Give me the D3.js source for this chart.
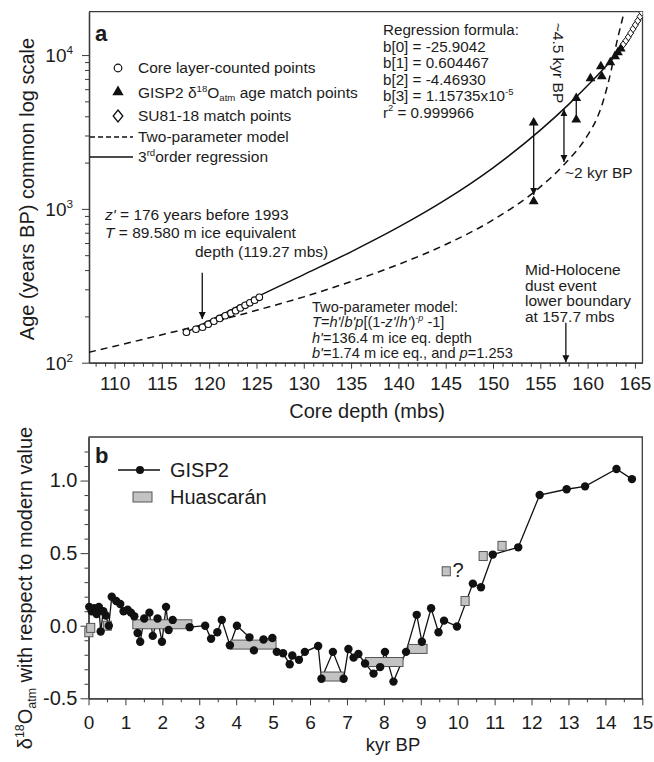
<!DOCTYPE html>
<html><head><meta charset="utf-8">
<script src="https://cdn.jsdelivr.net/npm/d3@7"></script>
<style>body{margin:0;background:#fff}svg{display:block;font-family:"Liberation Sans",Arial,sans-serif}</style>
</head><body><svg id="c" width="654" height="762"></svg>
<script>
// ---------- Panel a data ----------
const circDepth = [117.6, 118.6, 119.3, 119.9, 120.5, 121.1, 121.7, 122.3, 122.8, 123.3, 123.8, 124.3, 124.8, 125.3];
const circAge   = [158, 165, 170, 178, 186, 194, 202, 210, 218, 227, 236, 245, 255, 266];
const triDepth  = [154.3, 154.3, 158.8, 158.8, 160.3, 161.5, 161.4, 162.4, 162.9, 163.2, 163.5];
const triAge    = [3630, 1120, 5250, 3800, 7050, 7270, 8430, 8950, 9800, 10400, 11000];
const diaDepth  = [163.8, 164.05, 164.3, 164.55, 164.8, 165.05, 165.3, 165.55, 165.75];
const diaAge    = [11800, 12400, 13100, 13900, 14800, 15700, 16700, 17800, 18900];
const regDepth  = [117.6, 120, 125, 130, 135, 140, 145, 150, 155, 158, 160, 162, 164, 165, 165.8];
const regAge    = [158, 187, 267, 374, 526, 760, 1148, 1850, 3248, 4779, 6332, 8556, 12000, 15000, 19000];
const modDepth  = [107.3, 110, 115, 120, 125, 130, 135, 140, 145, 150, 155, 157.5, 160, 161, 161.5, 162, 162.5, 163, 163.5, 163.9];
const modAge    = [117, 128, 152, 181, 219, 268, 337, 435, 587, 848, 1389, 1937, 3013, 3900, 4700, 6000, 8000, 11500, 15500, 19500];
const xTicksA   = [110, 115, 120, 125, 130, 135, 140, 145, 150, 155, 160, 165];
const yTicksA   = [100, 1000, 10000];
const yTickExpA = ["2", "3", "4"];

// ---------- Panel b data ----------
const gispAge = [0.02, 0.09, 0.16, 0.22, 0.28, 0.33, 0.40, 0.47, 0.55, 0.63, 0.75, 0.86, 0.95, 1.06, 1.15, 1.24, 1.33, 1.40, 1.51, 1.65, 1.74, 1.87, 1.99, 2.10, 2.17, 2.28, 2.74, 3.16, 3.32, 3.49, 3.61, 3.83, 4.02, 4.36, 4.48, 4.74, 4.98, 5.10, 5.27, 5.45, 5.52, 5.70, 5.86, 6.22, 6.31, 6.62, 6.91, 7.04, 7.18, 7.31, 7.49, 7.72, 7.90, 8.03, 8.26, 8.60, 8.89, 9.03, 9.28, 9.48, 9.63, 9.98, 10.41, 10.63, 10.95, 11.64, 12.22, 12.95, 13.45, 14.30, 14.72];
const gispVal = [0.13, 0.10, 0.12, 0.08, 0.13, -0.04, 0.10, 0.07, 0.0, 0.20, 0.17, 0.15, 0.10, 0.11, 0.09, 0.065, -0.05, -0.11, 0.05, 0.09, -0.07, 0.05, -0.11, 0.13, -0.03, 0.04, -0.01, 0.0, -0.09, -0.045, 0.04, -0.135, 0.0, -0.08, -0.17, -0.095, -0.085, -0.18, -0.19, -0.265, -0.205, -0.235, -0.18, -0.14, -0.365, -0.18, -0.365, -0.16, -0.22, -0.195, -0.26, -0.33, -0.285, -0.18, -0.385, -0.18, 0.075, -0.11, 0.12, -0.045, 0.035, -0.005, 0.29, 0.265, 0.49, 0.54, 0.90, 0.94, 0.96, 1.08, 1.01];
const huasStart = [-0.10, -0.05, 0.40, 1.20, 3.85, 6.30, 7.50, 8.66, 9.58, 10.09, 10.58, 11.09];
const huasEnd   = [0.12, 0.17, 0.62, 2.80, 5.08, 6.90, 8.52, 9.17, 9.80, 10.31, 10.80, 11.31];
const huasVal   = [-0.045, -0.015, 0.0, 0.01, -0.13, -0.35, -0.25, -0.16, 0.375, 0.17, 0.48, 0.55];
const xTicksB = d3.range(0, 16, 1);
const yTicksB = [-0.5, 0, 0.5, 1.0];
const yLabelsB = ["-0.5", "0.0", "0.5", "1.0"];

const TXT = "#1c1c1c", AX = "#3a3a3a", INK = "#111";
const svg = d3.select("#c");

function rich(sel, x, y, parts, fs, anchor) {
  const t = sel.append("text").attr("x", x).attr("y", y).attr("font-size", fs).attr("fill", TXT);
  if (anchor) t.attr("text-anchor", anchor);
  let shift = 0;
  parts.forEach(p => {
    const s = Array.isArray(p) ? p[0] : p;
    const st = Array.isArray(p) ? (p[1] || "") : "";
    let target = 0, size = fs;
    if (st.includes("^")) { target = -fs * 0.4; size = fs * 0.62; }
    if (st.includes("_")) { target = fs * 0.22; size = fs * 0.62; }
    const ts = t.append("tspan").text(s).attr("dy", target - shift).attr("font-size", size);
    shift = target;
    if (st.includes("i")) ts.attr("font-style", "italic");
  });
  return t;
}

const defs = svg.append("defs");
defs.append("marker").attr("id", "ah").attr("viewBox", "0 0 10 10").attr("refX", 10).attr("refY", 5)
  .attr("markerWidth", 7).attr("markerHeight", 9).attr("markerUnits", "userSpaceOnUse")
  .attr("orient", "auto-start-reverse")
  .append("path").attr("d", "M0,0L10,5L0,10z").attr("fill", INK);

// ================= PANEL A =================
const xA = d3.scaleLinear().domain([107.3, 165.8]).range([89, 642.5]);
const yA = d3.scaleLog().domain([100, 19140]).range([362.7, 11.7]);
defs.append("clipPath").attr("id", "clipA").append("rect")
  .attr("x", 89).attr("y", 11.7).attr("width", 553.5).attr("height", 351);

const gA = svg.append("g");
gA.append("g").attr("transform", "translate(0,362.7)")
  .call(d3.axisBottom(xA).tickValues(d3.range(108, 166, 1).filter(d => d % 5)).tickSize(4).tickSizeOuter(0).tickFormat(""));
const axX = gA.append("g").attr("transform", "translate(0,362.7)")
  .call(d3.axisBottom(xA).tickValues(xTicksA).tickSize(6).tickSizeOuter(0).tickPadding(8).tickFormat(d3.format("d")));
axX.selectAll("text").attr("font-size", 19).attr("fill", TXT).attr("font-family", null);
const minorY = [];
[100, 1000, 10000].forEach(b => { for (let k = 2; k <= 9; k++) if (b * k < 19140) minorY.push(b * k); });
gA.append("g").attr("transform", "translate(89,0)")
  .call(d3.axisLeft(yA).tickValues(minorY).tickSize(4).tickSizeOuter(0).tickFormat(""));
gA.append("g").attr("transform", "translate(89,0)")
  .call(d3.axisLeft(yA).tickValues(yTicksA).tickSize(7).tickSizeOuter(0).tickFormat(""));
yTicksA.forEach((v, i) => rich(gA, 73, yA(v) + 7, ["10", [yTickExpA[i], "^"]], 19, "end"));
gA.selectAll(".domain").attr("stroke", AX).attr("stroke-width", 1.3);
gA.selectAll(".tick line").attr("stroke", AX);
gA.append("path").attr("d", `M${xA.range()[0]},${yA.range()[1]}H${xA.range()[1]}V${yA.range()[0]}`)
  .attr("fill", "none").attr("stroke", AX).attr("stroke-width", 1.3);

gA.append("text").attr("x", 367).attr("y", 418).attr("text-anchor", "middle").attr("font-size", 20)
  .attr("fill", TXT).text("Core depth (mbs)");
gA.append("text").attr("transform", "translate(34,189) rotate(-90)").attr("text-anchor", "middle")
  .attr("font-size", 20).attr("fill", TXT).text("Age (years BP) common log scale");
gA.append("text").attr("x", 95).attr("y", 41).attr("font-size", 22).attr("font-weight", "bold")
  .attr("fill", TXT).text("a");

const dA = gA.append("g").attr("clip-path", "url(#clipA)");
const lineA = d3.line().x(d => xA(d[0])).y(d => yA(d[1])).curve(d3.curveMonotoneX);
dA.append("path").datum(modDepth.map((d, i) => [d, modAge[i]])).attr("d", lineA)
  .attr("fill", "none").attr("stroke", INK).attr("stroke-width", 1.5).attr("stroke-dasharray", "7,5");
dA.append("path").datum(regDepth.map((d, i) => [d, regAge[i]])).attr("d", lineA)
  .attr("fill", "none").attr("stroke", INK).attr("stroke-width", 1.5);

function vline(g, depth, a0, a1, start, end) {
  const l = g.append("line").attr("x1", xA(depth)).attr("x2", xA(depth))
    .attr("y1", yA(a0)).attr("y2", yA(a1)).attr("stroke", INK).attr("stroke-width", 1.3);
  if (end) l.attr("marker-end", "url(#ah)");
  if (start) l.attr("marker-start", "url(#ah)");
}
vline(dA, 154.3, 3630, 1230, false, true);
vline(dA, 158.8, 5250, 3800, false, false);
vline(dA, 157.5, 4450, 2020, true, true);
vline(dA, 119.27, 384, 192, false, true);
vline(dA, 157.7, 182, 100.5, false, true);

const tri = d3.symbol(d3.symbolTriangle).size(42);
dA.selectAll(".tri").data(triDepth).enter().append("path")
  .attr("transform", (d, i) => `translate(${xA(d)},${yA(triAge[i])})`).attr("d", tri).attr("fill", INK);
dA.selectAll(".cir").data(circDepth).enter().append("circle")
  .attr("cx", d => xA(d)).attr("cy", (d, i) => yA(circAge[i])).attr("r", 3.3)
  .attr("fill", "#fff").attr("stroke", INK).attr("stroke-width", 1.1);
const dia = (s) => `M0,${-s}L${s * 0.8},0L0,${s}L${-s * 0.8},0Z`;
dA.selectAll(".dia").data(diaDepth).enter().append("path")
  .attr("transform", (d, i) => `translate(${xA(d)},${yA(diaAge[i])})`).attr("d", dia(3.8))
  .attr("fill", "#fff").attr("stroke", INK).attr("stroke-width", 1);

const FL = 15.5;
gA.append("circle").attr("cx", 118).attr("cy", 68).attr("r", 3.8).attr("fill", "#fff").attr("stroke", INK).attr("stroke-width", 1.2);
gA.append("path").attr("transform", "translate(118,92)").attr("d", d3.symbol(d3.symbolTriangle).size(55)).attr("fill", INK);
gA.append("path").attr("transform", "translate(118,116)").attr("d", dia(6)).attr("fill", "#fff").attr("stroke", INK).attr("stroke-width", 1.3);
gA.append("line").attr("x1", 90).attr("x2", 133).attr("y1", 137).attr("y2", 137).attr("stroke", INK).attr("stroke-width", 1.5).attr("stroke-dasharray", "5,3");
gA.append("line").attr("x1", 90).attr("x2", 133).attr("y1", 157).attr("y2", 157).attr("stroke", INK).attr("stroke-width", 1.5);
rich(gA, 138, 73, ["Core layer-counted points"], FL);
rich(gA, 138, 98, ["GISP2 \u03b4", ["18", "^"], "O", ["atm", "_"], " age match points"], FL);
rich(gA, 138, 121, ["SU81-18 match points"], FL);
rich(gA, 138, 142, ["Two-parameter model"], FL);
rich(gA, 138, 162, ["3", ["rd", "^"], "order regression"], FL);

const FR = 15.2;
const regLines = [
  ["Regression formula:"],
  ["b[0] = -25.9042"],
  ["b[1] = 0.604467"],
  ["b[2] = -4.46930"],
  ["b[3] = 1.15735x10", ["-5", "^"]],
  ["r", ["2", "^"], " = 0.999966"]
];
regLines.forEach((p, i) => rich(gA, 383, 35 + i * 16.5, p, FR));
gA.append("text").attr("transform", "translate(553,63) rotate(90)").attr("text-anchor", "middle")
  .attr("font-size", FL).attr("fill", TXT).text("~4.5 kyr BP");
rich(gA, 565, 178, ["~2 kyr BP"], FL);

rich(gA, 105, 220, [["z'", "i"], " = 176 years before 1993"], FL);
rich(gA, 105, 238, [["T", "i"], " = 89.580 m ice equivalent"], FL);
rich(gA, 195, 257, ["depth (119.27 mbs)"], FL);

const FT = 14.6;
rich(gA, 312, 311.5, ["Two-parameter model:"], FT);
rich(gA, 312, 327.2, [["T", "i"], "=", ["h'", "i"], "/", ["b'p", "i"], "[(1-", ["z'", "i"], "/", ["h'", "i"], ")", ["-p", "^i"], " -1]"], FT);
rich(gA, 312, 342.8, [["h'", "i"], "=136.4 m ice eq. depth"], FT);
rich(gA, 312, 358.4, [["b'", "i"], "=1.74 m ice eq., and ", ["p", "i"], "=1.253"], FT);

["Mid-Holocene", "dust event", "lower boundary", "at 157.7 mbs"].forEach((s, i) => rich(gA, 525, 275 + i * 15.7, [s], FL));

// ================= PANEL B =================
const xB = d3.scaleLinear().domain([0, 15]).range([88.5, 642.3]);
const yB = d3.scaleLinear().domain([-0.5, 1.3]).range([698.3, 437]);
const gB = svg.append("g");
gB.append("g").attr("transform", "translate(0,698.3)")
  .call(d3.axisBottom(xB).tickValues(d3.range(0.5, 15, 1)).tickSize(4).tickSizeOuter(0).tickFormat(""));
const axXB = gB.append("g").attr("transform", "translate(0,698.3)")
  .call(d3.axisBottom(xB).tickValues(xTicksB).tickSize(7).tickSizeOuter(0).tickPadding(10).tickFormat(d3.format("d")));
axXB.selectAll("text").attr("font-size", 19).attr("fill", TXT).attr("font-family", null);
gB.append("g").attr("transform", "translate(88.5,0)")
  .call(d3.axisLeft(yB).tickValues(d3.range(-4, 13, 1).map(d => d / 10).filter(d => Math.abs(d * 10) % 5 !== 0)).tickSize(4).tickSizeOuter(0).tickFormat(""));
const axYB = gB.append("g").attr("transform", "translate(88.5,0)")
  .call(d3.axisLeft(yB).tickValues(yTicksB).tickSize(8).tickSizeOuter(0).tickPadding(3).tickFormat((d, i) => yLabelsB[i]));
axYB.selectAll("text").attr("font-size", 20).attr("fill", TXT).attr("font-family", null);
gB.selectAll(".domain").attr("stroke", AX).attr("stroke-width", 1.3);
gB.selectAll(".tick line").attr("stroke", AX);
gB.append("path").attr("d", `M${xB.range()[0]},${yB.range()[1]}H${xB.range()[1]}V${yB.range()[0]}`)
  .attr("fill", "none").attr("stroke", AX).attr("stroke-width", 1.3);

gB.append("text").attr("x", 393).attr("y", 751).attr("text-anchor", "middle").attr("font-size", 18.5)
  .attr("fill", TXT).text("kyr BP");
const yt = rich(gB, 0, 0, ["\u03b4", ["18", "^"], "O", ["atm", "_"], " with respect to modern value"], 20, "middle");
yt.attr("transform", "translate(32,588) rotate(-90)");
gB.append("text").attr("x", 95).attr("y", 463).attr("font-size", 22).attr("font-weight", "bold")
  .attr("fill", TXT).text("b");

const gData = gispAge.map((d, i) => [d, gispVal[i]]);
gB.append("path").datum(gData).attr("d", d3.line().x(d => xB(d[0])).y(d => yB(d[1])))
  .attr("fill", "none").attr("stroke", INK).attr("stroke-width", 1.3);
gB.selectAll(".hb").data(huasStart).enter().append("rect")
  .attr("x", d => xB(d)).attr("width", (d, i) => xB(huasEnd[i]) - xB(d))
  .attr("y", (d, i) => yB(huasVal[i]) - 4.5).attr("height", 9)
  .attr("fill", "#c3c3c3").attr("stroke", "#555").attr("stroke-width", 1);
gB.selectAll(".gd").data(gData).enter().append("circle")
  .attr("cx", d => xB(d[0])).attr("cy", d => yB(d[1])).attr("r", 4.2).attr("fill", INK);
rich(gB, xB(9.86), yB(0.375) + 6, ["?"], 20);

gB.append("line").attr("x1", 118).attr("x2", 160).attr("y1", 470).attr("y2", 470).attr("stroke", INK).attr("stroke-width", 1.3);
gB.append("circle").attr("cx", 140).attr("cy", 470).attr("r", 4).attr("fill", INK);
gB.append("rect").attr("x", 133).attr("y", 492).attr("width", 19).attr("height", 10)
  .attr("fill", "#c3c3c3").attr("stroke", "#555");
rich(gB, 170, 477, ["GISP2"], 20);
rich(gB, 170, 504, ["Huascar\u00e1n"], 20);
</script></body></html>
